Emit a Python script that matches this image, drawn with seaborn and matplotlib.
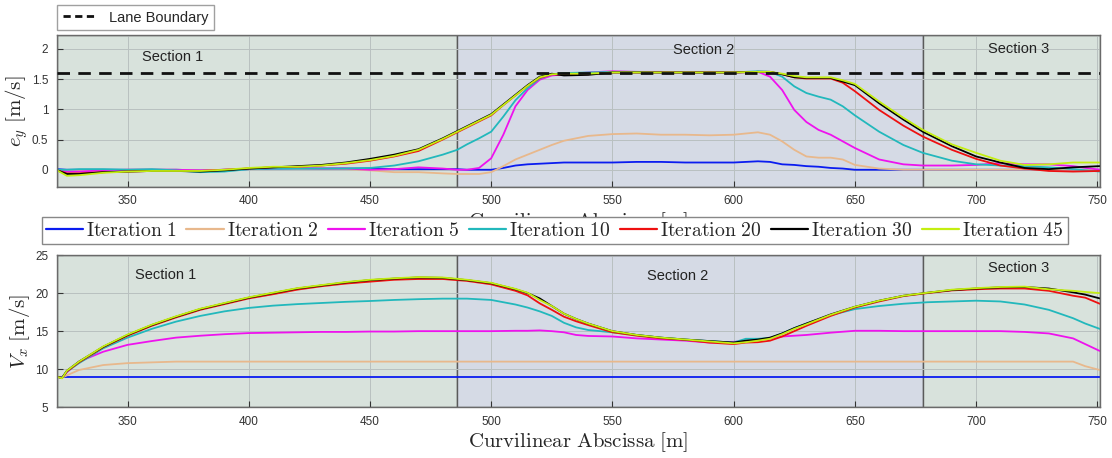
import matplotlib
matplotlib.use("Agg")
import matplotlib.pyplot as plt
from matplotlib.lines import Line2D
import seaborn as sns
import numpy as np
import pandas as pd

# --- abscissa grids (m)
s_top = [321, 325, 330, 340, 350, 360, 370, 380, 390, 400, 410, 420, 430, 440, 450,
         460, 470, 480, 486, 490, 495, 500, 505, 510, 515, 520, 525, 530, 540, 550,
         560, 570, 580, 590, 600, 610, 615, 620, 625, 630, 635, 640, 645, 650, 660,
         670, 678, 690, 700, 710, 720, 730, 740, 751]

s_bot = [321, 323, 325, 330, 340, 350, 360, 370, 380, 390, 400, 410, 420, 430, 440,
         450, 460, 470, 480, 490, 500, 510, 515, 520, 525, 530, 535, 540, 550, 560,
         570, 580, 590, 600, 605, 610, 615, 620, 625, 630, 640, 650, 660, 670, 680,
         690, 700, 710, 720, 730, 740, 745, 751]

iterations = ["Iteration 1", "Iteration 2", "Iteration 5", "Iteration 10",
              "Iteration 20", "Iteration 30", "Iteration 45"]
colors = ["#0a1cf0", "#e8b88c", "#ee12ee", "#22b8bc", "#ee1010", "#000000", "#c4ee10"]

# --- lateral error e_y
ey_it1 = [0.01, 0.0, 0.0, 0.0, 0.0, 0.0, 0.0, -0.01, 0.0, 0.01, 0.02, 0.02, 0.02, 0.02, 0.02,
          0.01, 0.01, 0.01, 0.01, 0.0, 0.0, 0.0, 0.03, 0.07, 0.09, 0.1, 0.11, 0.12, 0.12, 0.12,
          0.13, 0.13, 0.12, 0.12, 0.12, 0.14, 0.13, 0.09, 0.08, 0.06, 0.05, 0.03, 0.02, 0.0, 0.0,
          0.0, 0.0, 0.0, 0.0, 0.0, 0.0, 0.0, 0.0, 0.0]
ey_it2 = [0.0, -0.02, -0.02, -0.01, 0.0, 0.0, 0.0, -0.01, 0.0, 0.02, 0.03, 0.02, 0.02, 0.01, -0.01,
          -0.04, -0.04, -0.06, -0.07, -0.07, -0.07, -0.04, 0.06, 0.17, 0.25, 0.33, 0.41, 0.48, 0.56, 0.59,
          0.6, 0.58, 0.58, 0.57, 0.58, 0.62, 0.58, 0.47, 0.33, 0.22, 0.2, 0.2, 0.17, 0.08, 0.02,
          0.0, 0.0, 0.0, 0.0, 0.0, 0.0, 0.0, 0.0, 0.0]
ey_it5 = [0.0, -0.03, -0.03, -0.01, 0.0, 0.0, 0.0, -0.01, 0.0, 0.02, 0.03, 0.03, 0.02, 0.02, 0.0,
          0.01, 0.04, 0.02, 0.0, 0.0, 0.03, 0.19, 0.58, 1.05, 1.32, 1.49, 1.56, 1.58, 1.61, 1.63,
          1.62, 1.62, 1.61, 1.62, 1.61, 1.62, 1.54, 1.32, 0.99, 0.79, 0.66, 0.58, 0.47, 0.36, 0.17,
          0.09, 0.07, 0.07, 0.08, 0.11, 0.09, 0.09, 0.06, 0.0]
ey_it10 = [0.0, 0.0, 0.01, 0.01, 0.0, 0.01, -0.01, -0.04, -0.03, 0.01, 0.02, 0.02, 0.02, 0.02, 0.03,
           0.07, 0.14, 0.25, 0.33, 0.42, 0.52, 0.63, 0.88, 1.15, 1.35, 1.51, 1.58, 1.6, 1.61, 1.62,
           1.62, 1.61, 1.61, 1.61, 1.61, 1.63, 1.62, 1.54, 1.38, 1.27, 1.21, 1.16, 1.05, 0.9, 0.63,
           0.41, 0.28, 0.15, 0.09, 0.07, 0.06, 0.04, 0.01, -0.03]
ey_it20 = [-0.01, -0.06, -0.06, -0.04, -0.03, -0.02, -0.02, -0.02, 0.0, 0.02, 0.04, 0.05, 0.07, 0.1, 0.15,
           0.22, 0.31, 0.5, 0.62, 0.7, 0.8, 0.9, 1.07, 1.23, 1.39, 1.52, 1.58, 1.57, 1.58, 1.61,
           1.61, 1.61, 1.61, 1.61, 1.61, 1.62, 1.62, 1.58, 1.53, 1.51, 1.51, 1.51, 1.44, 1.3, 0.99,
           0.73, 0.55, 0.33, 0.18, 0.07, 0.02, -0.02, -0.03, -0.02]
ey_it30 = [-0.01, -0.07, -0.07, -0.04, -0.03, -0.02, -0.02, -0.03, -0.01, 0.02, 0.04, 0.06, 0.08, 0.12, 0.18,
           0.25, 0.34, 0.52, 0.64, 0.72, 0.82, 0.92, 1.08, 1.24, 1.4, 1.54, 1.59, 1.56, 1.57, 1.61,
           1.61, 1.61, 1.61, 1.61, 1.61, 1.62, 1.62, 1.58, 1.53, 1.52, 1.52, 1.52, 1.46, 1.4, 1.1,
           0.83, 0.63, 0.39, 0.22, 0.12, 0.03, 0.01, 0.04, 0.06]
ey_it45 = [-0.01, -0.1, -0.09, -0.05, -0.03, -0.02, -0.02, -0.02, 0.0, 0.03, 0.05, 0.05, 0.07, 0.11, 0.16,
           0.23, 0.33, 0.51, 0.63, 0.71, 0.81, 0.91, 1.07, 1.23, 1.39, 1.53, 1.58, 1.59, 1.59, 1.61,
           1.61, 1.61, 1.61, 1.61, 1.61, 1.62, 1.62, 1.59, 1.55, 1.53, 1.53, 1.53, 1.48, 1.42, 1.13,
           0.86, 0.66, 0.42, 0.28, 0.15, 0.08, 0.09, 0.12, 0.12]

# --- longitudinal speed V_x
vx_it1 = [9.0] * len(s_bot)
vx_it2 = [9.0, 8.9, 9.2, 9.9, 10.55, 10.8, 10.9, 11.0, 11.0, 11.0, 11.0, 11.0, 11.0, 11.0, 11.0,
          11.0, 11.0, 11.0, 11.0, 11.0, 11.0, 11.0, 11.0, 11.0, 11.0, 11.0, 11.0, 11.0, 11.0, 11.0,
          11.0, 11.0, 11.0, 11.0, 11.0, 11.0, 11.0, 11.0, 11.0, 11.0, 11.0, 11.0, 11.0, 11.0, 11.0,
          11.0, 11.0, 11.0, 11.0, 11.0, 11.0, 10.4, 9.9]
vx_it5 = [9.0, 8.9, 9.6, 11.0, 12.3, 13.2, 13.7, 14.15, 14.4, 14.6, 14.75, 14.8, 14.85, 14.9, 14.9,
          14.95, 14.95, 15.0, 15.0, 15.0, 15.0, 15.05, 15.05, 15.1, 15.0, 14.85, 14.5, 14.37, 14.3, 14.05,
          13.9, 13.75, 13.5, 13.6, 13.7, 13.85, 14.0, 14.3, 14.4, 14.5, 14.8, 15.05, 15.05, 15.0, 15.0,
          15.0, 15.0, 15.0, 14.9, 14.7, 14.05, 13.3, 12.4]
vx_it10 = [9.0, 8.9, 9.7, 10.8, 12.75, 14.15, 15.3, 16.25, 17.0, 17.6, 18.05, 18.35, 18.55, 18.7, 18.85,
           18.96, 19.1, 19.2, 19.27, 19.27, 19.1, 18.5, 18.1, 17.6, 17.0, 16.1, 15.5, 15.15, 14.85, 14.5,
           14.15, 13.9, 13.7, 13.5, 14.0, 14.0, 14.1, 14.7, 15.4, 16.0, 17.1, 17.9, 18.3, 18.6, 18.8,
           18.9, 19.0, 18.9, 18.5, 17.8, 16.7, 16.0, 15.3]
vx_it20 = [9.0, 8.85, 9.7, 10.9, 12.9, 14.4, 15.7, 16.8, 17.8, 18.55, 19.3, 19.85, 20.45, 20.9, 21.25,
           21.5, 21.75, 21.85, 21.85, 21.6, 21.15, 20.3, 19.7, 18.65, 17.8, 16.9, 16.3, 15.8, 14.85, 14.4,
           14.05, 13.85, 13.5, 13.3, 13.5, 13.55, 13.75, 14.3, 15.0, 15.7, 17.0, 18.1, 18.9, 19.6, 20.0,
           20.35, 20.5, 20.6, 20.6, 20.3, 19.65, 19.4, 18.6]
vx_it30 = [9.0, 8.85, 9.8, 11.0, 12.95, 14.5, 15.8, 16.9, 17.9, 18.65, 19.4, 20.0, 20.6, 21.0, 21.4,
           21.7, 21.9, 22.05, 22.0, 21.7, 21.3, 20.5, 20.0, 19.3, 18.3, 17.3, 16.6, 16.0, 15.0, 14.5,
           14.15, 13.9, 13.7, 13.5, 13.75, 13.9, 14.15, 14.7, 15.4, 16.0, 17.2, 18.2, 19.0, 19.65, 20.05,
           20.4, 20.6, 20.75, 20.8, 20.6, 20.1, 19.8, 19.3]
vx_it45 = [9.0, 8.8, 9.8, 11.0, 13.0, 14.55, 15.85, 16.95, 17.95, 18.7, 19.45, 20.05, 20.65, 21.05, 21.45,
           21.75, 21.95, 22.1, 22.05, 21.75, 21.35, 20.55, 20.05, 19.1, 18.3, 17.3, 16.6, 16.0, 15.0, 14.5,
           14.15, 13.9, 13.65, 13.4, 13.55, 13.75, 14.0, 14.6, 15.3, 15.9, 17.15, 18.2, 19.0, 19.65, 20.05,
           20.45, 20.65, 20.8, 20.85, 20.5, 20.3, 20.15, 20.0]

lane_boundary = 1.6
sections = [(320.8, 486.0), (486.0, 678.0), (678.0, 751.0)]
section_names = ["Section 1", "Section 2", "Section 3"]
section_colors = ["#d8e2dc", "#d5dae5", "#d8e2dc"]
xticks = [350, 400, 450, 500, 550, 600, 650, 700, 750]

ey_series = [ey_it1, ey_it2, ey_it5, ey_it10, ey_it20, ey_it30, ey_it45]
vx_series = [vx_it1, vx_it2, vx_it5, vx_it10, vx_it20, vx_it30, vx_it45]

df_top = pd.concat([pd.DataFrame({"s": s_top, "ey": v, "it": name})
                    for name, v in zip(iterations, ey_series)], ignore_index=True)
df_bot = pd.concat([pd.DataFrame({"s": s_bot, "vx": v, "it": name})
                    for name, v in zip(iterations, vx_series)], ignore_index=True)

sns.set_theme(style="ticks")
plt.rcParams["font.family"] = ["Liberation Sans", "DejaVu Sans"]
plt.rcParams["mathtext.fontset"] = "cm"
plt.rcParams["axes.unicode_minus"] = False

fig = plt.figure(figsize=(11.12, 4.58), dpi=100)
ax1 = fig.add_axes([0.051, 0.5924, 0.938, 0.3312])
ax2 = fig.add_axes([0.051, 0.1107, 0.938, 0.3325])
palette = dict(zip(iterations, colors))


def style_axis(ax):
    for (a, b), c in zip(sections, section_colors):
        ax.axvspan(a, b, facecolor=c, edgecolor="#5a5a5a", linewidth=1.0, zorder=0)
    ax.set_axisbelow(True)
    ax.grid(True, color="#b9c0c0", linewidth=0.7)
    ax.set_xlim(320.8, 751)
    ax.set_xticks(xticks)
    ax.tick_params(axis="both", direction="in", length=4, width=0.8, labelsize=8.5,
                   colors="#333333", pad=6, top=False, right=False)
    for sp in ax.spines.values():
        sp.set_color("#6a6a6a")
        sp.set_linewidth(1.0)


# --- top panel
style_axis(ax1)
sns.lineplot(data=df_top, x="s", y="ey", hue="it", palette=palette, ax=ax1,
             legend=False, linewidth=1.3, sort=False, estimator=None)
ax1.axhline(lane_boundary, color="#111111", linestyle=(0, (4.5, 3.0)), linewidth=2.0, zorder=3)
ax1.set_ylim(-0.28, 2.23)
ax1.set_yticks([0, 0.5, 1, 1.5, 2])
ax1.set_yticklabels(["0", "0.5", "1", "1.5", "2"])
ax1.set_ylabel(r"$e_y\ [\mathrm{m/s}]$", fontsize=15, labelpad=1)
ax1.set_xlabel(r"$\mathrm{Curvilinear\ Abscissa\ [m]}$", fontsize=15, labelpad=2)
ax1.text(368.6, 1.87, "Section 1", ha="center", va="center", fontsize=10.5, color="#222222")
ax1.text(587.6, 1.98, "Section 2", ha="center", va="center", fontsize=10.5, color="#222222")
ax1.text(717.7, 2.0, "Section 3", ha="center", va="center", fontsize=10.5, color="#222222")

# --- bottom panel
style_axis(ax2)
sns.lineplot(data=df_bot, x="s", y="vx", hue="it", palette=palette, ax=ax2,
             legend=False, linewidth=1.3, sort=False, estimator=None)
ax2.set_ylim(5, 25)
ax2.set_yticks([5, 10, 15, 20, 25])
ax2.set_ylabel(r"$V_x\ [\mathrm{m/s}]$", fontsize=15, labelpad=2)
ax2.set_xlabel(r"$\mathrm{Curvilinear\ Abscissa\ [m]}$", fontsize=15, labelpad=2)
ax2.text(365.7, 22.4, "Section 1", ha="center", va="center", fontsize=10.5, color="#222222")
ax2.text(576.7, 22.2, "Section 2", ha="center", va="center", fontsize=10.5, color="#222222")
ax2.text(717.7, 23.3, "Section 3", ha="center", va="center", fontsize=10.5, color="#222222")

# --- legends
lane_handle = [Line2D([], [], color="#111111", linestyle=(0, (2.6, 1.6)), linewidth=2.0)]
leg1 = fig.legend(lane_handle, ["Lane Boundary"], loc="upper left",
                  bbox_to_anchor=(57 / 1112, 1 - 5 / 458), fontsize=10.5, frameon=True,
                  fancybox=False, edgecolor="#888888", handlelength=2.4, handletextpad=0.8,
                  borderpad=0.38, borderaxespad=0)
leg1.get_frame().set_linewidth(1.0)

it_handles = [Line2D([], [], color=c, linewidth=1.6) for c in colors]
it_labels = [r"$\mathrm{" + n.replace(" ", r"\ ") + "}$" for n in iterations]
leg2 = fig.legend(it_handles, it_labels, loc="upper left", ncol=7,
                  bbox_to_anchor=(42 / 1112, 1 - 217 / 458), fontsize=14.2, frameon=True,
                  fancybox=False, edgecolor="#888888", handlelength=1.9, handletextpad=0.15,
                  columnspacing=0.46, borderpad=0.2, borderaxespad=0)
leg2.get_frame().set_linewidth(1.0)
leg2.get_frame().set_alpha(1.0)

fig.savefig("out.png", dpi=100, facecolor="white")
